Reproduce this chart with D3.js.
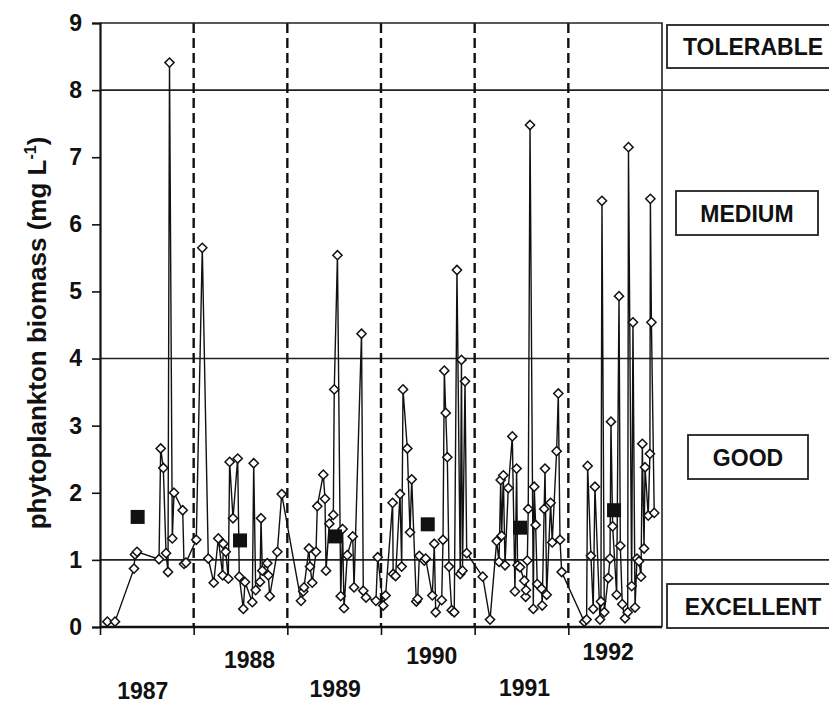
<!DOCTYPE html>
<html>
<head>
<meta charset="utf-8">
<script src="https://cdn.jsdelivr.net/npm/d3@7"></script>
<style>
body{margin:0;background:#fff;}
text{font-family:"Liberation Sans",Arial,sans-serif;font-weight:bold;fill:#111;}
</style>
</head>
<body>
<script>
// sampling dates (decimal years) and biomass values (mg/L)
var sampleTime = [1987.078,1987.160,1987.363,1987.374,1987.395,1987.630,1987.648,1987.676,1987.705,1987.726,
	1987.742,1987.772,1987.790,1987.883,1987.897,1987.918,1988.028,1988.092,1988.156,1988.214,
	1988.263,1988.310,1988.316,1988.342,1988.370,1988.384,1988.420,1988.470,1988.487,1988.530,
	1988.548,1988.626,1988.641,1988.662,1988.708,1988.719,1988.733,1988.786,1988.797,1988.812,
	1988.893,1988.940,1989.146,1989.170,1989.178,1989.231,1989.242,1989.266,1989.306,1989.320,
	1989.384,1989.402,1989.413,1989.448,1989.491,1989.501,1989.535,1989.570,1989.590,1989.605,
	1989.640,1989.698,1989.712,1989.792,1989.811,1989.840,1989.946,1989.965,1990.024,1990.049,
	1990.124,1990.130,1990.156,1990.203,1990.221,1990.235,1990.281,1990.310,1990.328,1990.377,
	1990.392,1990.409,1990.462,1990.477,1990.548,1990.569,1990.584,1990.648,1990.662,1990.676,
	1990.691,1990.708,1990.726,1990.755,1990.782,1990.811,1990.846,1990.859,1990.870,1990.897,
	1990.915,1991.086,1991.164,1991.235,1991.260,1991.278,1991.288,1991.306,1991.324,1991.359,
	1991.402,1991.430,1991.448,1991.458,1991.484,1991.530,1991.544,1991.548,1991.562,1991.572,
	1991.591,1991.626,1991.636,1991.651,1991.668,1991.714,1991.721,1991.742,1991.751,1991.769,
	1991.811,1991.828,1991.875,1991.893,1991.911,1991.929,1992.170,1992.195,1992.206,1992.241,
	1992.266,1992.284,1992.338,1992.348,1992.359,1992.384,1992.426,1992.445,1992.455,1992.473,
	1992.516,1992.541,1992.555,1992.576,1992.605,1992.634,1992.642,1992.676,1992.690,1992.712,
	1992.733,1992.754,1992.776,1992.790,1992.808,1992.819,1992.853,1992.871,1992.876,1992.887,
	1992.917];
var biomass = [0.08,0.08,0.87,1.08,1.12,1.01,2.66,2.37,1.10,0.82,
	8.41,1.32,2.00,1.74,0.94,0.96,1.30,5.65,1.02,0.66,
	1.32,0.77,1.24,1.12,0.72,2.46,1.62,2.51,0.75,0.27,
	0.67,0.37,2.44,0.55,0.67,1.62,0.84,0.95,0.77,0.46,
	1.12,1.98,0.39,0.53,0.59,1.17,0.90,0.66,1.12,1.80,
	2.27,1.91,0.84,1.54,1.67,3.54,5.54,0.46,1.46,0.28,
	1.07,1.35,0.59,4.37,0.54,0.44,0.39,1.04,0.32,0.47,
	1.85,0.79,0.76,1.98,0.90,3.54,2.66,1.41,2.20,0.38,
	0.42,1.06,0.99,1.02,0.47,1.24,0.22,0.40,1.30,3.82,
	3.19,2.53,0.90,0.25,0.22,5.32,0.79,3.98,0.84,3.66,
	1.10,0.75,0.11,1.28,0.97,2.19,1.36,2.26,0.92,2.07,
	2.84,0.53,2.36,0.92,0.89,0.69,0.45,0.55,0.99,1.76,
	7.48,0.27,2.09,1.52,0.64,0.57,0.32,1.76,2.36,0.48,
	1.85,1.26,2.62,3.48,1.30,0.82,0.08,0.11,2.40,1.06,
	0.27,2.09,0.11,0.38,6.35,0.22,0.73,1.02,3.06,1.50,
	0.48,4.93,1.21,0.34,0.13,0.22,7.15,0.61,4.54,0.29,
	1.02,0.98,0.75,2.73,1.17,2.38,1.66,2.58,6.38,4.54,
	1.70];
// yearly means
var meanTime = [1987.402,1988.495,1989.509,1990.499,1991.484,1992.488];
var meanValue = [1.64,1.29,1.35,1.53,1.48,1.74];
var yearTicks = [1987,1988,1989,1990,1991,1992];
var yearLabels = ["1987","1988","1989","1990","1991","1992"];
var classLimits = [1,4,8];
var classNames = ["EXCELLENT","GOOD","MEDIUM","TOLERABLE"];
var yTicks = [0,1,2,3,4,5,6,7,8,9];

const svg_width = 829, svg_height = 704;
const plot_left = 100, plot_right = 662, plot_top = 23, plot_bottom = 627;
const label_shift = [-4,9,1,4,3,-7];

var svg = d3.select("body").append("svg")
	.attr("width",svg_width)
	.attr("height",svg_height);

var x = d3.scaleLinear().domain([1987,1993]).range([plot_left,plot_right]);
var y = d3.scaleLinear().domain([0,9]).range([plot_bottom,plot_top]);

// class limit lines run out to the label column
svg.append("g").selectAll("line")
	.data(classLimits)
	.enter().append("line")
	.attr("x1",plot_left).attr("x2",svg_width)
	.attr("y1",function(d){return y(d)}).attr("y2",function(d){return y(d)})
	.attr("stroke","#222").attr("stroke-width",1.6);

// year separators
svg.append("g").selectAll("line")
	.data(yearTicks.slice(1))
	.enter().append("line")
	.attr("x1",function(d){return x(d)}).attr("x2",function(d){return x(d)})
	.attr("y1",plot_top).attr("y2",plot_bottom)
	.attr("stroke","#111").attr("stroke-width",2.4)
	.attr("stroke-dasharray","10,5");

// frame top/right
svg.append("path")
	.attr("d","M"+plot_left+","+plot_top+"H"+plot_right+"V"+plot_bottom)
	.attr("fill","none").attr("stroke","#222").attr("stroke-width",1.6);

// y axis
var yAxis = d3.axisLeft(y).tickValues(yTicks).tickSize(8).tickPadding(10).tickFormat(d3.format("d"));
var yg = svg.append("g").attr("transform","translate("+plot_left+",0)").call(yAxis);
yg.select(".domain").attr("stroke","#111").attr("stroke-width",2.2);
yg.selectAll(".tick line").attr("stroke","#111").attr("stroke-width",1.6);
yg.selectAll(".tick text").style("font-size","23px").attr("fill","#111")
	.style("font-family","'Liberation Sans',Arial,sans-serif").style("font-weight","bold");

// x axis
var xAxis = d3.axisBottom(x).tickValues(yearTicks).tickSize(8).tickFormat("");
var xg = svg.append("g").attr("transform","translate(0,"+plot_bottom+")").call(xAxis);
xg.select(".domain").attr("d","M"+plot_left+",0H"+plot_right).attr("stroke","#111").attr("stroke-width",2.4);
xg.selectAll(".tick line").attr("stroke","#111").attr("stroke-width",1.6);

svg.append("g").selectAll("text")
	.data(yearLabels)
	.enter().append("text")
	.attr("x",function(d,i){return x(yearTicks[i]+0.5)+label_shift[i]})
	.attr("y",function(d,i){return i%2 ? 670-i*2 : 699-i*0.8})
	.attr("text-anchor","middle")
	.style("font-size","23px")
	.text(function(d){return d});

// y title
var title = svg.append("text")
	.attr("transform","translate(46,333) rotate(-90)")
	.attr("text-anchor","middle")
	.style("font-size","26px");
title.append("tspan").text("phytoplankton biomass (mg L");
title.append("tspan").attr("dy",-10).style("font-size","16px").text("-1");
title.append("tspan").attr("dy",10).text(")");

// class boxes
var boxes = [
	{name:classNames[3],x:667,y:25,w:172,h:43,cx:753},
	{name:classNames[2],x:676,y:191,w:142,h:44,cx:747},
	{name:classNames[1],x:688,y:435,w:120,h:44,cx:748},
	{name:classNames[0],x:667,y:584,w:172,h:44,cx:753}
];
var bg = svg.append("g").selectAll("g").data(boxes).enter().append("g");
bg.append("rect")
	.attr("x",function(d){return d.x}).attr("y",function(d){return d.y})
	.attr("width",function(d){return d.w}).attr("height",function(d){return d.h})
	.attr("fill","#fff").attr("stroke","#222").attr("stroke-width",1.8);
bg.append("text")
	.attr("x",function(d){return d.cx}).attr("y",function(d){return d.y+d.h/2+8.5})
	.attr("text-anchor","middle")
	.style("font-size","23px")
	.text(function(d){return d.name});

// series
var points = sampleTime.map(function(t,i){return {t:t,v:biomass[i]}});
var line = d3.line().x(function(d){return x(d.t)}).y(function(d){return y(d.v)});
svg.append("path")
	.attr("d",line(points))
	.attr("fill","none").attr("stroke","#111").attr("stroke-width",1.4);

svg.append("g").selectAll("path")
	.data(points)
	.enter().append("path")
	.attr("transform",function(d){return "translate("+x(d.t)+","+y(d.v)+")"})
	.attr("d","M0,-4.6L4.6,0L0,4.6L-4.6,0Z")
	.attr("fill","#fff").attr("stroke","#111").attr("stroke-width",1.5);

var means = meanTime.map(function(t,i){return {t:t,v:meanValue[i]}});
svg.append("g").selectAll("rect")
	.data(means)
	.enter().append("rect")
	.attr("x",function(d){return x(d.t)-7}).attr("y",function(d){return y(d.v)-7})
	.attr("width",14).attr("height",14)
	.attr("fill","#111");
</script>
</body>
</html>
